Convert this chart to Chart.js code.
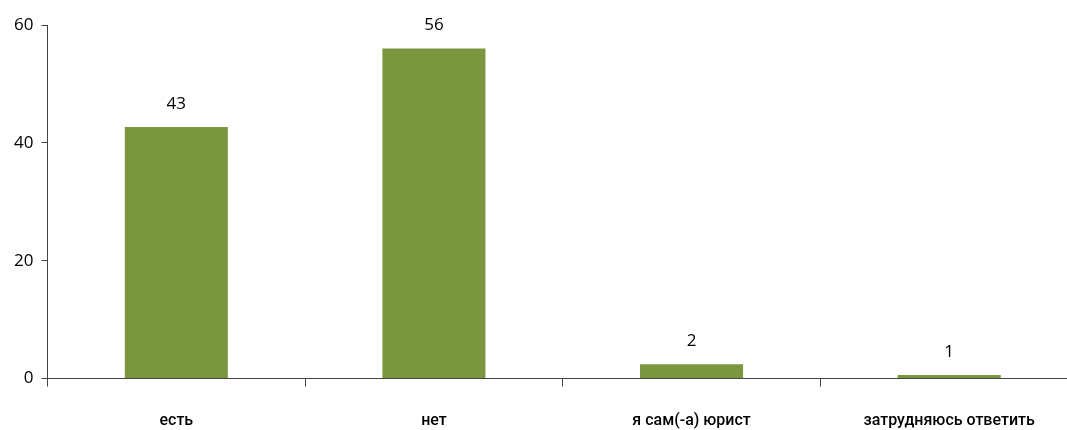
<!DOCTYPE html>
<html>
<head>
<meta charset="utf-8">
<script src="https://cdn.jsdelivr.net/npm/chart.js@4"></script>
<style>
  html, body { margin: 0; padding: 0; background: #fff; overflow: hidden; }
  #wrap { width: 1078px; height: 430px; }
</style>
</head>
<body>
<div id="wrap"><canvas id="chart" width="1078" height="430"></canvas></div>
<script>
// Данные
const categories = ['есть', 'нет', 'я сам(-а) юрист', 'затрудняюсь ответить'];
const values = [42.7, 56, 2.4, 0.6];
const valueLabels = ['43', '56', '2', '1'];
const yTicks = [0, 20, 40, 60];

const FONT = '"Open Sans", "DejaVu Sans", sans-serif';
const CAT_FONT = 'Roboto, "Open Sans", sans-serif';
const AXIS = '#444';

// подписи над столбцами
const barLabels = {
    id: 'barLabels',
    afterDatasetsDraw(chart) {
        const ctx = chart.ctx;
        const meta = chart.getDatasetMeta(0);
        ctx.save();
        ctx.font = '17px ' + FONT;
        ctx.fillStyle = '#000';
        ctx.textAlign = 'center';
        ctx.textBaseline = 'middle';
        meta.data.forEach((bar, i) => {
            ctx.fillText(valueLabels[i], bar.x, bar.y - 23);
        });
        ctx.restore();
    }
};

new Chart(document.getElementById('chart'), {
    type: 'bar',
    data: {
        labels: categories,
        datasets: [{
            data: values,
            backgroundColor: '#7a963e',
            borderWidth: 0,
            barPercentage: 0.4,
            categoryPercentage: 1
        }]
    },
    options: {
        responsive: false,
        animation: false,
        layout: { padding: { top: 25, right: 0, left: 0, bottom: 0 } },
        plugins: {
            legend: { display: false },
            tooltip: { enabled: false }
        },
        scales: {
            x: {
                grid: {
                    offset: true,
                    drawOnChartArea: false,
                    drawTicks: true,
                    tickLength: 8,
                    color: AXIS
                },
                border: { color: AXIS, width: 1 },
                ticks: {
                    color: '#000',
                    font: { family: CAT_FONT, size: 16, weight: '500' },
                    padding: 25,
                    maxRotation: 0
                },
                afterFit(scale) { scale.height = 51.5; }
            },
            y: {
                min: 0,
                max: 60,
                afterBuildTicks(scale) {
                    scale.ticks = yTicks.map(v => ({ value: v }));
                },
                grid: {
                    drawOnChartArea: false,
                    drawTicks: true,
                    tickLength: 6,
                    color: AXIS
                },
                border: { color: AXIS, width: 1 },
                ticks: {
                    color: '#000',
                    font: { family: FONT, size: 17 },
                    padding: 8
                },
                afterFit(scale) { scale.width = 47.5; }
            }
        }
    },
    plugins: [barLabels]
});
</script>
</body>
</html>
